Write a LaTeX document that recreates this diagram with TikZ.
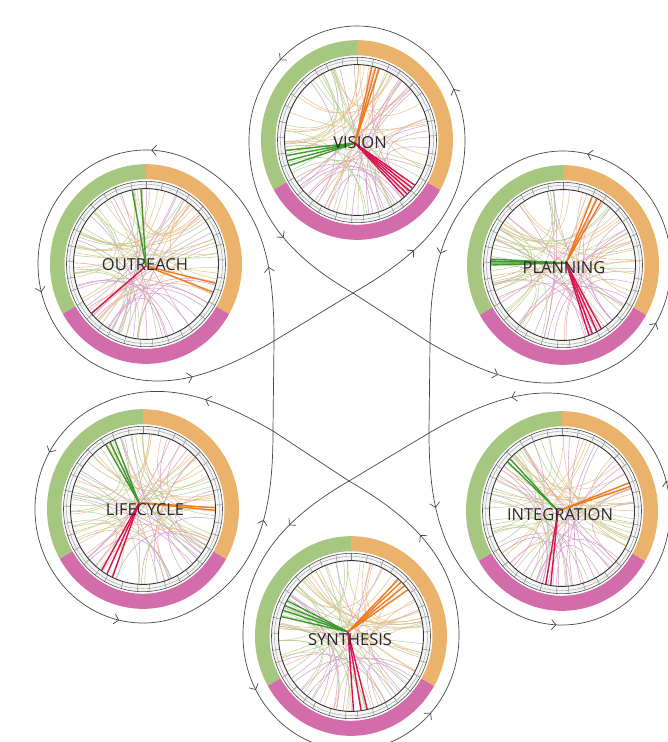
\documentclass[tikz,border=0pt]{standalone}
\usepackage{fontspec}
\setmainfont{Open Sans}
\usetikzlibrary{arrows.meta,decorations.markings,calc}

\definecolor{bandgreen}{HTML}{A5C780}
\definecolor{bandorange}{HTML}{EBB26C}
\definecolor{bandpink}{HTML}{D36CAB}
\definecolor{pc0}{HTML}{E9BD84}
\definecolor{pc1}{HTML}{B3CE90}
\definecolor{pc2}{HTML}{D49AC6}
\definecolor{hgreen}{HTML}{3E9A2C}
\definecolor{horange}{HTML}{F07A1E}
\definecolor{hred}{HTML}{DA1352}
\definecolor{labelgray}{HTML}{2A2A2A}

\tikzset{
  loopline/.style={draw=black!72, line width=0.7pt},
  chordline/.style={line width=0.55pt, opacity=0.9},
  bundleline/.style={line width=1.4pt},
  wheellabel/.style={font=\fontsize{16.5}{16.5}\selectfont, text=labelgray, inner sep=0pt},
  flowmarks/.style={postaction={decorate}, decoration={markings,
      mark=at position 0.1 with {\arrow{Straight Barb[length=4.5pt,width=10pt]}},
      mark=at position 0.34 with {\arrow{Straight Barb[length=4.5pt,width=10pt]}},
      mark=at position 0.62 with {\arrow{Straight Barb[length=4.5pt,width=10pt]}},
      mark=at position 0.88 with {\arrow{Straight Barb[length=4.5pt,width=10pt]}}}}
}

% #1 name, #2 centre, #3 label, #4 seed, #5 hub, #6 green, #7 orange, #8 red, #9 label offset
\newcommand\chordwheel[9]{%
  \begin{scope}[shift={#2}, yscale=1.04]
    \pgfmathsetseed{#4}
    \foreach \i in {1,...,58}{
      \pgfmathsetmacro\ca{360*rnd}
      \pgfmathsetmacro\cb{\ca+35+230*rnd}
      \pgfmathtruncatemacro\cg{mod(\ca+30,360)/120}
      \draw[chordline, draw=pc\cg] (\ca:72) .. controls (\ca:24) and (\cb:24) .. (\cb:72);
    }
    \foreach \t in {#6} \draw[bundleline, draw=hgreen] #5 -- (\t:72);
    \foreach \t in {#7} \draw[bundleline, draw=horange] #5 -- (\t:72);
    \foreach \t in {#8} \draw[bundleline, draw=hred] #5 -- (\t:72);
    \fill[gray!8, even odd rule] (0,0) circle[radius=79.5] (0,0) circle[radius=72.5];
    \foreach \t in {3,14,22,35,44,57,66,78,90,101,113,122,134,146,155,167,178,190,199,210,222,233,241,254,266,275,287,298,306,318,330,341,350}
      \draw[black!50, line width=0.45pt] (\t:72.5) -- (\t:79.5);
    \draw[black!40, line width=0.4pt] (0,0) circle[radius=76.5];
    \draw[black!70, line width=0.6pt] (0,0) circle[radius=79.5];
    \draw[black!80, line width=0.9pt] (0,0) circle[radius=72.5];
    \fill[bandgreen] (90:96) arc[start angle=90, end angle=210, radius=96] -- (210:81.5) arc[start angle=210, end angle=90, radius=81.5] -- cycle;
    \fill[bandpink] (210:96) arc[start angle=210, end angle=330, radius=96] -- (330:81.5) arc[start angle=330, end angle=210, radius=81.5] -- cycle;
    \fill[bandorange] (-30:96) arc[start angle=-30, end angle=90, radius=96] -- (90:81.5) arc[start angle=90, end angle=-30, radius=81.5] -- cycle;
  \end{scope}
  \node[wheellabel] (#1) at ($#2+#9$) {#3};
}

\begin{document}
\begin{tikzpicture}[x=1pt, y=1pt]
  \fill[white] (0,0) rectangle (667,-742);
  \useasboundingbox (0,0) rectangle (667,-742);

  % centres
  \coordinate (cV) at (357,-140);
  \coordinate (cP) at (563,-265);
  \coordinate (cI) at (562,-511);
  \coordinate (cS) at (351,-636);
  \coordinate (cL) at (143,-509);
  \coordinate (cO) at (146,-264);
  % crossings
  \coordinate (xV) at (353,-293);
  \coordinate (xP) at (430,-343);
  \coordinate (xI) at (429,-433);
  \coordinate (xS) at (349,-481);
  \coordinate (xL) at (273,-431);
  \coordinate (xO) at (274,-341);

  % wheels
  \chordwheel{vision}{(357,-140)}{VISION}{11}{(-2,-3)}{188,192,196,200}{72,75,78}{-37,-40,-43,-46,-49}{(3,-3)}
  \chordwheel{planning}{(563,-265)}{PLANNING}{23}{(3,2)}{175.5,177,178.5,180}{58,62,66}{-58,-62,-66,-69}{(1,-3)}
  \chordwheel{integration}{(562,-511)}{INTEGRATION}{37}{(-4,0)}{136,139}{19,22}{257,261}{(-2,-4)}
  \chordwheel{synthesis}{(351,-636)}{SYNTHESIS}{41}{(-3,4)}{152,156,160,165}{38,42,46,49}{272,278,283}{(-1,-4)}
  \chordwheel{lifecycle}{(143,-509)}{LIFECYCLE}{53}{(-4,6)}{113,117,121}{-1,1}{235,240,245}{(2,-1)}
  \chordwheel{outreach}{(146,-264)}{OUTREACH}{67}{(0,-2)}{94,101}{-15,-22}{221}{(-1,-1)}

  % central hexagon (extended sides run into the loops)
  \draw[loopline] (xV) -- (xP) -- (xI) -- (xS) -- (xL) -- (xO) -- cycle;

  % loops
  \draw[loopline, flowmarks] (xV) to[out=30, in=270] ($(cV)+(0:108 and 114)$)
     arc[start angle=0, end angle=180, x radius=108, y radius=114] to[out=270, in=150] (xV);
  \draw[loopline, flowmarks] (xP) to[out=-30, in=210] ($(cP)+(-60:108 and 114)$)
     arc[start angle=-60, end angle=120, x radius=108, y radius=114] to[out=210, in=90] (xP);
  \draw[loopline, flowmarks] (xI) to[out=-90, in=150] ($(cI)+(-120:108 and 114)$)
     arc[start angle=-120, end angle=60, x radius=108, y radius=114] to[out=150, in=30] (xI);
  \draw[loopline, flowmarks] (xS) to[out=-150, in=90] ($(cS)+(180:108 and 114)$)
     arc[start angle=180, end angle=360, x radius=108, y radius=114] to[out=90, in=-30] (xS);
  \draw[loopline, flowmarks] (xL) to[out=150, in=30] ($(cL)+(120:108 and 114)$)
     arc[start angle=120, end angle=300, x radius=108, y radius=114] to[out=30, in=-90] (xL);
  \draw[loopline, flowmarks] (xO) to[out=90, in=-30] ($(cO)+(60:108 and 114)$)
     arc[start angle=60, end angle=240, x radius=108, y radius=114] to[out=-30, in=210] (xO);
\end{tikzpicture}
\end{document}
